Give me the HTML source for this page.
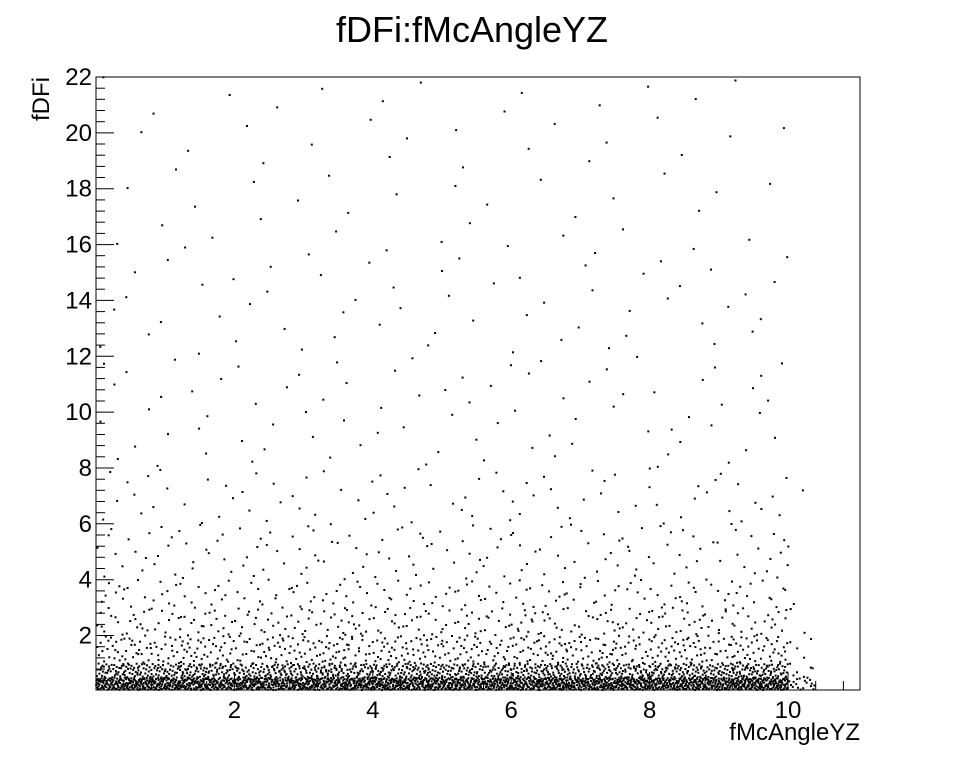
<!DOCTYPE html>
<html><head><meta charset="utf-8"><style>
html,body{margin:0;padding:0;background:#fff;}
svg{display:block;font-family:"Liberation Sans",sans-serif;}
</style></head><body>
<svg id="chart" width="956" height="767" viewBox="0 0 956 767" xmlns="http://www.w3.org/2000/svg">
<rect x="0" y="0" width="956" height="767" fill="#fff"/>
<text x="472" y="42" font-size="36" text-anchor="middle">fDFi:fMcAngleYZ</text>
<rect x="96" y="77" width="764" height="613" fill="none" stroke="#000" stroke-width="1"/>
<g id="points"></g>
<g id="axes"></g>
<text x="860" y="740" font-size="24" text-anchor="end">fMcAngleYZ</text>
<text x="0" y="0" font-size="24" text-anchor="end" transform="translate(49,77) rotate(-90)">fDFi</text>
</svg>
<script>
// axis ranges
const xRange = [0, 11.04];
const yRange = [0.05, 22];
const xTicks = [2, 4, 6, 8, 10];
const yTicks = [2, 4, 6, 8, 10, 12, 14, 16, 18, 20, 22];
// 2D-histogram of point counts
const xBinEdges = [0,0.4,0.8,1.2,1.6,2,2.4,2.8,3.2,3.6,4,4.4,4.8,5.2,5.6,6,6.4,6.8,7.2,7.6,8,8.4,8.8,9.2,9.6,10,10.4];
const yBinEdges = [0.05,0.5,1,2,3,4,6,8,12,16,22];
const countsY0 = [75,82,78,80,77,83,79,81,76,84,80,78,82,77,81,79,83,78,80,82,77,81,79,83,78,18];
const countsY1 = [34,36,33,37,35,32,36,34,38,33,35,37,34,36,33,35,37,34,36,33,35,37,34,36,35,6];
const countsY2 = [18,20,17,21,19,16,20,18,22,17,19,21,18,20,17,19,21,18,20,17,19,21,18,20,19,4];
const countsY3 = [9,10,8,11,9,10,8,10,9,11,9,10,8,9,10,11,9,8,10,9,11,10,9,8,10,2];
const countsY4 = [6,5,7,5,6,5,6,7,5,6,6,5,7,6,5,6,7,5,6,5,6,7,5,6,6,1];
const countsY5 = [6,5,6,7,5,6,5,7,6,5,6,7,5,6,7,5,6,5,6,7,5,6,5,6,7,1];
const countsY6 = [3,4,3,2,4,3,3,4,2,3,4,3,2,4,3,4,3,3,4,2,3,3,4,3,4,1];
const countsY7 = [4,3,4,3,2,4,3,3,4,2,3,4,3,3,4,3,4,3,2,3,4,3,4,3,4,0];
const countsY8 = [2,3,2,3,2,2,3,2,3,2,3,2,3,2,2,3,2,3,2,3,2,3,3,2,3,0];
const countsY9 = [2,2,3,2,2,3,2,2,3,2,3,2,2,3,2,2,3,2,3,2,2,3,2,2,2,0];
const countRows = [countsY0,countsY1,countsY2,countsY3,countsY4,countsY5,countsY6,countsY7,countsY8,countsY9];

const L=96,R=860,T=77,B=690;
const sx = v => L + (v - xRange[0]) / (xRange[1] - xRange[0]) * (R - L);
const sy = v => B - (v - yRange[0]) / (yRange[1] - yRange[0]) * (B - T);
const NS="http://www.w3.org/2000/svg";
function halton(i,b){let f=1,r=0;while(i>0){f/=b;r+=f*(i%b);i=Math.floor(i/b);}return r;}

const pg=document.getElementById('points');
let k=1;
for(let yi=0;yi<countRows.length;yi++){
  for(let xi=0;xi<xBinEdges.length-1;xi++){
    const n=countRows[yi][xi];
    for(let p=0;p<n;p++){
      const u=halton(k,2), w=halton(k,3); k++;
      const xv=xBinEdges[xi]+u*(xBinEdges[xi+1]-xBinEdges[xi]);
      const yv=yBinEdges[yi]+w*(yBinEdges[yi+1]-yBinEdges[yi]);
      const r=document.createElementNS(NS,'rect');
      r.setAttribute('x',(sx(xv)-1).toFixed(1));
      r.setAttribute('y',(sy(yv)-1).toFixed(1));
      r.setAttribute('width','2');r.setAttribute('height','2');
      r.setAttribute('fill','#000');
      
      
      pg.appendChild(r);
    }
  }
}

const ag=document.getElementById('axes');
function line(x1,y1,x2,y2,name){
  const l=document.createElementNS(NS,'line');
  l.setAttribute('x1',x1);l.setAttribute('y1',y1);l.setAttribute('x2',x2);l.setAttribute('y2',y2);
  l.setAttribute('stroke','#000');l.setAttribute('stroke-width','1');
  
  
  ag.appendChild(l);
}
function text(x,y,s,anchor,name){
  const t=document.createElementNS(NS,'text');
  t.setAttribute('x',x);t.setAttribute('y',y);t.setAttribute('font-size','24');
  t.setAttribute('text-anchor',anchor);t.textContent=s;
  
  
  ag.appendChild(t);
}
for(let v=0.4;v<xRange[1];v+=0.4){
  const x=sx(v).toFixed(1);
  const major=Math.abs(v/2-Math.round(v/2))<1e-6;
  line(x,B,x,B-(major?18:9),'x-tick');
}
xTicks.forEach(v=>text(sx(v),718,String(v),'middle','x-tick-label'));
for(let v=0.4;v<=yRange[1]+1e-6;v+=0.4){
  const y=sy(v).toFixed(1);
  const major=Math.abs(v/2-Math.round(v/2))<1e-6;
  line(L,y,L+(major?18:9),y,'y-tick');
}
yTicks.forEach(v=>text(92,sy(v)+8,String(v),'end','y-tick-label'));
</script>
</body></html>
